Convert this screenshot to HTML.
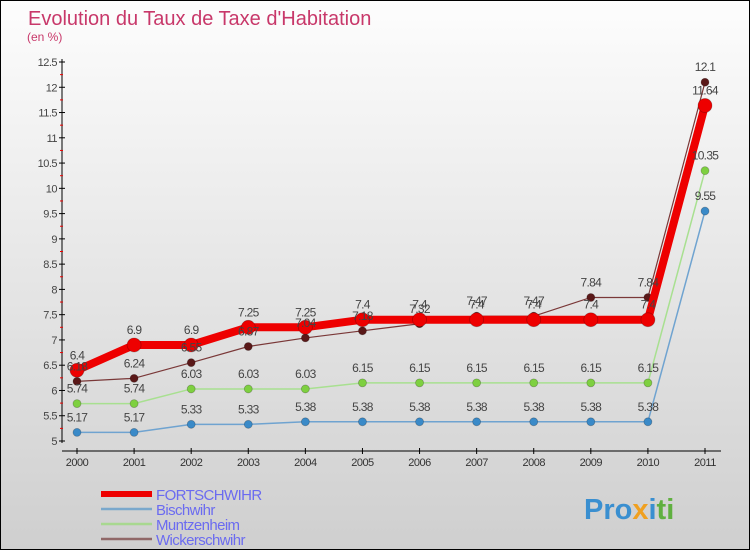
<!DOCTYPE html>
<html><head><meta charset="utf-8"><style>
body{margin:0}
#c{position:relative;width:750px;height:550px;box-sizing:border-box;border:1px solid #000;background:linear-gradient(#fdfdfd,#cfcfcf);overflow:hidden;font-family:"Liberation Sans",sans-serif}
svg text{font-family:"Liberation Sans",sans-serif}
</style></head><body>
<div id="c">
<svg id="s" width="750" height="550">
<text x="27" y="24" font-size="20" fill="#c8386a">Evolution du Taux de Taxe d'Habitation</text>
<text x="26" y="40" font-size="12" fill="#c8386a">(en %)</text>
<text x="583" y="518" font-size="29" font-weight="bold" fill="#3a8fd0">Pro<tspan fill="#f0a020">x</tspan><tspan fill="#3a8fd0">i</tspan><tspan fill="#60b040">ti</tspan></text>
</svg>
</div>
<script>
const years=[2000,2001,2002,2003,2004,2005,2006,2007,2008,2009,2010,2011];
const fort=[6.4,6.9,6.9,7.25,7.25,7.4,7.4,7.4,7.4,7.4,7.4,11.64];
const bisch=[5.17,5.17,5.33,5.33,5.38,5.38,5.38,5.38,5.38,5.38,5.38,9.55];
const muntz=[5.74,5.74,6.03,6.03,6.03,6.15,6.15,6.15,6.15,6.15,6.15,10.35];
const wick=[6.18,6.24,6.55,6.87,7.04,7.18,7.32,7.47,7.47,7.84,7.84,12.1];
const yTicks=[5,5.5,6,6.5,7,7.5,8,8.5,9,9.5,10,10.5,11,11.5,12,12.5];
const NS="http://www.w3.org/2000/svg";
const svg=document.getElementById('s');
const X=i=>76+i*(704-76)/11;
const Y=v=>440-(v-5)*(440-61)/7.5;
function mk(t,a){const e=document.createElementNS(NS,t);for(const k in a)e.setAttribute(k,a[k]);svg.appendChild(e);return e;}
let ax=mk('line',{x1:61,y1:58,x2:61,y2:442,stroke:'#000','stroke-width':1});


let bx=mk('line',{x1:61,y1:450,x2:720,y2:450,stroke:'#000','stroke-width':1});


yTicks.forEach(v=>{
 mk('line',{x1:58,x2:64,y1:Y(v),y2:Y(v),stroke:'#000'});
 if(v<12.5) mk('line',{x1:59,x2:62,y1:Y(v+0.25),y2:Y(v+0.25),stroke:'#e00'});
 const t=mk('text',{x:56,y:Y(v)+4,'font-size':11,'text-anchor':'end',fill:'#444','letter-spacing':'-0.5'});
 t.textContent=String(v);
 
 
});
years.forEach((y,i)=>{
 mk('line',{x1:X(i),x2:X(i),y1:447,y2:453,stroke:'#000'});
 const t=mk('text',{x:X(i),y:465,'font-size':11,'text-anchor':'middle',fill:'#333','letter-spacing':'-0.5'});
 t.textContent=y;
 
 
});
function series(vals,color,dot,w,r,name){
 const p=mk('polyline',{points:vals.map((v,i)=>X(i)+','+Y(v)).join(' '),fill:'none',stroke:color,'stroke-width':w});
 
 
 vals.forEach((v,i)=>{
  const c=mk('circle',{cx:X(i),cy:Y(v),r:r,fill:dot,stroke:'rgba(0,0,0,0.25)','stroke-width':0.8});
  
  
 });
}
function labels(vals,name){
 vals.forEach((v,i)=>{
  const t=mk('text',{x:X(i),y:Y(v)-11,'font-size':12,'text-anchor':'middle',fill:'#444','letter-spacing':'-0.7'});
  t.textContent=String(v);
  
  
 });
}
series(bisch,'#6fa3d0','#3a8ac8',1.5,4,'bischwihr');
series(muntz,'#a8e090','#7ed040',1.5,4,'muntzenheim');
series(wick,'#7a3838','#5a1818',1.2,4,'wickerschwihr');
series(fort,'#ee0000','#ee0000',8,7,'fortschwihr');
labels(bisch,'bischwihr');labels(muntz,'muntzenheim');labels(wick,'wickerschwihr');labels(fort,'fortschwihr');
const leg=[['FORTSCHWIHR','#ee0000',6],['Bischwihr','#7aa8cc',2.5],['Muntzenheim','#a8d890',2.5],['Wickerschwihr','#906868',2.5]];
leg.forEach((l,i)=>{
 const y=493+i*15;
 const ln=mk('line',{x1:100,x2:151,y1:y,y2:y,stroke:l[1],'stroke-width':l[2]});
 
 
 const t=mk('text',{x:155,y:y+6,'font-size':15,fill:'#6b6bf0','letter-spacing':'-0.6'});
 t.textContent=l[0];
 
 
});
</script>
</body></html>
